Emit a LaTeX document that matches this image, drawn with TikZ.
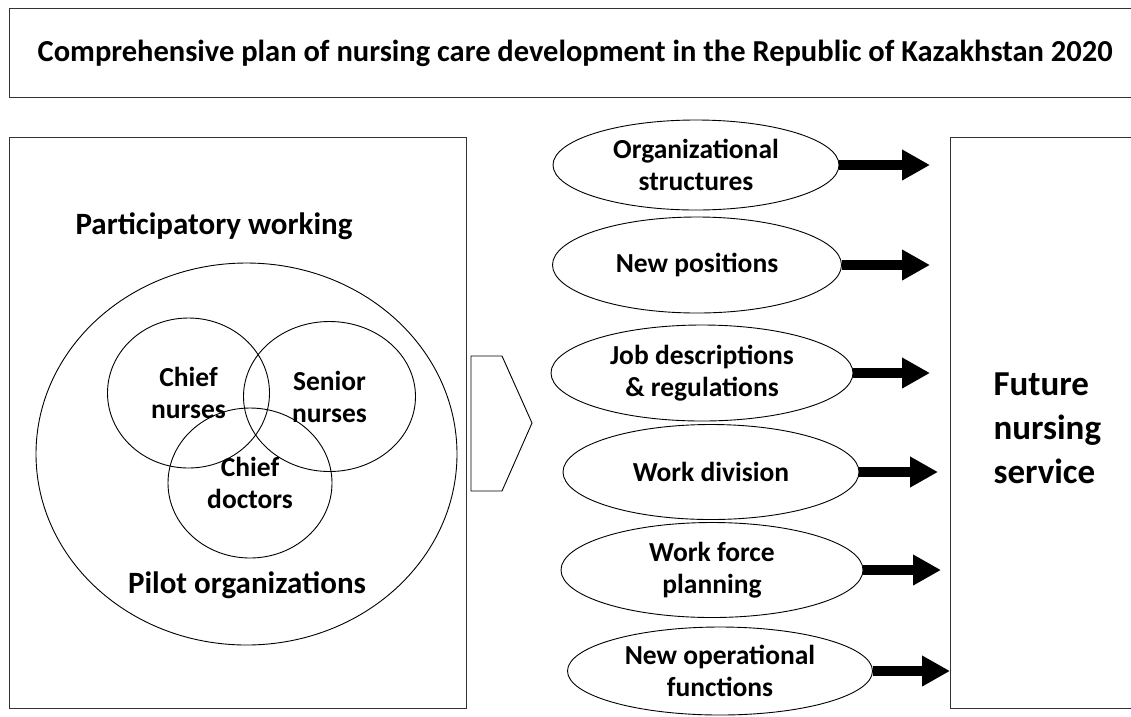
\documentclass[tikz,border=0pt]{standalone}
\usepackage{fontspec}
\setmainfont{Carlito}
\usetikzlibrary{shapes.geometric, arrows.meta}

\begin{document}
\begin{tikzpicture}[x=1pt,y=-1pt]
   \tikzstyle{panel}=[draw=black!80,line width=1.3pt,inner sep=0pt,anchor=north west]
   \tikzstyle{venn}=[ellipse,draw,line width=0.9pt,inner sep=0pt,align=center,font=\bfseries\fontsize{27.5}{32}\selectfont]
   \tikzstyle{heading}=[font=\bfseries\fontsize{31}{36}\selectfont]
   \tikzstyle{push}=[line width=10pt,-{Triangle[length=28pt,width=29pt]}]

   \useasboundingbox (0,0) rectangle (1131,716);

   \node[panel,minimum width=1131pt,minimum height=89pt,font=\bfseries\fontsize{30.5}{36}\selectfont] (plan) at (9,8)
      {Comprehensive plan of nursing care development in the Republic of Kazakhstan 2020};
   \node[panel,minimum width=457pt,minimum height=571pt] (left) at (9,137) {};
   \node[panel,minimum width=200pt,minimum height=571pt] (future) at (950,137) {};

   % left side
   \node[heading] (pw) at (214,226) {Participatory working};
   \node[venn,minimum width=421pt,minimum height=382pt] (pilot) at (246.5,454) {};
   \node[venn,minimum width=162pt,minimum height=150pt] (cn) at (188.5,393) {Chief\\nurses};
   \node[venn,minimum width=172pt,minimum height=150pt] (sn) at (329.5,396.5) {Senior\\nurses};
   \node[venn,minimum width=164pt,minimum height=150pt] (cd) at (250,483) {Chief\\doctors};
   \node[heading] (po) at (247,585) {Pilot organizations};

   \draw[line width=0.9pt] (471,356) -- (502,356) -- (532,423) -- (502,491) -- (471,491) -- cycle;

   % right side
   \node[venn,minimum width=286pt,minimum height=90pt] (1) at (696,165) {Organizational\\structures};
   \node[venn,minimum width=289pt,minimum height=96pt] (2) at (697,265) {New positions};
   \node[venn,minimum width=302pt,minimum height=96pt] (3) at (702,373) {Job descriptions\\\& regulations};
   \node[venn,minimum width=296pt,minimum height=95pt] (4) at (711,472) {Work division};
   \node[venn,minimum width=302pt,minimum height=95pt] (5) at (712,570) {Work force\\planning};
   \node[venn,minimum width=305pt,minimum height=88pt] (6) at (720,671) {New operational\\functions};

   \node[anchor=west,align=left,font=\bfseries\fontsize{35}{44}\selectfont] (fns) at (990,428) {Future\\nursing\\service};

   \draw[push,shorten >=20pt] (1.east) -- (1.east -| future.west);
   \draw[push,shorten >=20pt] (2.east) -- (2.east -| future.west);
   \draw[push,shorten >=20pt] (3.east) -- (3.east -| future.west);
   \draw[push,shorten >=12pt] (4.east) -- (4.east -| future.west);
   \draw[push,shorten >=9pt]  (5.east) -- (5.east -| future.west);
   \draw[push]                (6.east) -- (6.east -| future.west);
\end{tikzpicture}
\end{document}
